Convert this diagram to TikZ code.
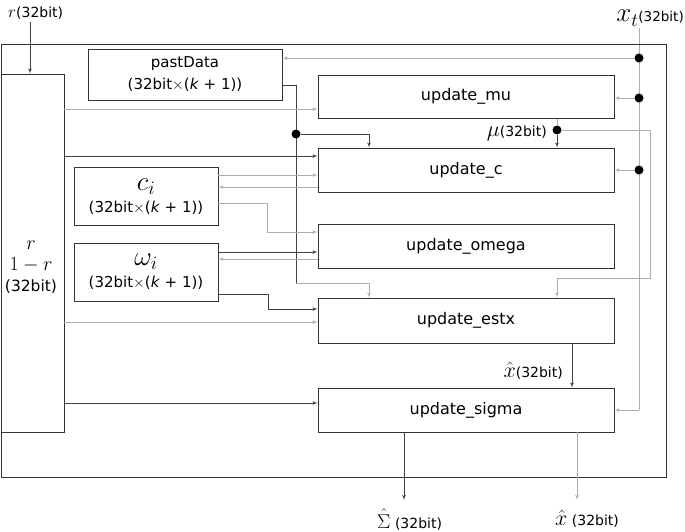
\RequirePackage{fix-cm}
\documentclass[tikz,border=0pt]{standalone}
\usepackage{fontspec}
\setmainfont{DejaVu Sans}
\usetikzlibrary{arrows, positioning}
\pgfdeclarelayer{background}
\pgfsetlayers{background,main}

\newcommand{\bitk}{(32bit$\times$(\textit{k} + 1))}
\newcommand{\symsz}[2]{{\fontsize{#1}{#1}\selectfont$#2$}}

\begin{document}
\begin{tikzpicture}[x=1pt, y=-1pt, >=latex',
    block/.style={rectangle, draw=black!80, line width=0.8pt, fill=white, text centered, minimum width=296pt, minimum height=44pt, inner sep=0pt, font=\fontsize{16}{19}\selectfont},
    mem/.style={block, minimum width=144pt, minimum height=58pt, align=center},
    line/.style={draw, ->, line width=0.7pt, black!75},
    gline/.style={line, black!32},
    dot/.style={circle, fill=black, inner sep=0pt, minimum size=9pt},
    lbl/.style={inner sep=0pt, font=\fontsize{14}{16}\selectfont}]

    \useasboundingbox (0,0) rectangle (685,532);

    % Frame and register block
    \node [draw=black!80, line width=0.8pt, minimum width=665pt, minimum height=433pt, inner sep=0pt] (frame) at (333.5,260.5) {};
    \node [block, minimum width=63pt, minimum height=358pt] (rbox) at (32.5,253) {};
    \node [lbl, align=center, font=\fontsize{15.5}{21}\selectfont] (rtxt) at (31,267) {\symsz{20}{r}\\\symsz{20}{1-r}\\(32bit)};

    % Memories
    \node [mem, minimum width=194pt, minimum height=51pt, font=\fontsize{15}{22}\selectfont] (past) at (185,74.5) {pastData\\\bitk};
    \node [mem, font=\fontsize{15}{22}\selectfont] (ci) at (146,196.5) {\symsz{27}{c_i}\\\bitk};
    \node [mem, font=\fontsize{15}{22}\selectfont] (wi) at (146,272) {\symsz{27}{\omega_i}\\\bitk};

    % Update units
    \node [block, minimum height=43pt] (mu) at (466,96.5) {update\_mu};
    \node [block] (c) at (466,170) {update\_c};
    \node [block] (omega) at (466,246) {update\_omega};
    \node [block, minimum height=45pt] (estx) at (466,320.5) {update\_estx};
    \node [block] (sigma) at (466,410) {update\_sigma};

    % Inputs and outputs
    \node [lbl, anchor=base west] (rlab) at (8,18) {\symsz{17}{r}(32bit)};
    \coordinate (rin) at (30,22);
    \node [lbl, anchor=base east, font=\fontsize{13.5}{15}\selectfont] (xlab) at (684,22) {\symsz{27}{x_t}(32bit)};
    \coordinate (xin) at (639,28);
    \coordinate (xbend) at (639,410);
    \node [dot] (d1) at (639,58) {};
    \node [dot] (d2) at (639,98) {};
    \node [dot] (d3) at (639,170) {};
    \node [dot] (d4) at (296,134) {};
    \node [dot] (d5) at (557,130) {};
    \coordinate (pbend) at (296,283);
    \node [lbl, anchor=base east] (mulab) at (547,137) {\symsz{22}{\mu}(32bit)};
    \node [lbl, anchor=base east] (xhlab) at (563,377) {\symsz{22}{\hat{x}}(32bit)};
    \coordinate (sout) at (404,500);
    \coordinate (xout) at (577,500);
    \node [lbl, anchor=base west] (slab) at (377,528) {\symsz{20}{\hat{\Sigma}} (32bit)};
    \node [lbl, anchor=base west] (xolab) at (555,525) {\symsz{22}{\hat{x}} (32bit)};

    % Paths
    \path [line] (rin) -- (rin |- rbox.north);
    \path [gline] (d1) -- (d1 -| past.east);
    \path [gline] (d2) -- (d2 -| mu.east);
    \path [gline] (d3) -- (d3 -| c.east);
    \path [gline] (xbend) -- (sigma.east);

    \path [gline] (rbox.east |- 0,109) -- (mu.west |- 0,109);
    \path [line] (rbox.east |- 0,156) -- (c.west |- 0,156);
    \path [gline] (rbox.east |- 0,322) -- (estx.west |- 0,322);
    \path [line] (rbox.east |- 0,403) -- (sigma.west |- 0,403);

    \path [line] (d4) -| (c.north -| 369,0);
    \path [gline] (pbend) -| (estx.north -| 369,0);

    \path [gline] (ci.east |- 0,175) -- (c.west |- 0,175);
    \path [gline] (c.west |- 0,187) -- (ci.east |- 0,187);
    \path [gline] (ci.east |- 0,203) -| (267,232) -- (omega.west |- 0,232);

    \path [line] (wi.east |- 0,252) -- (omega.west |- 0,252);
    \path [gline] (omega.west |- 0,259) -- (wi.east |- 0,259);
    \path [line] (wi.east |- 0,294) -| (268,309) -- (estx.west |- 0,309);

    \path [line] (d5) -- (c.north -| d5);
    \path [gline] (d5) -| (650,278) -| (estx.north -| d5);
    \path [line] (estx.south -| 572,0) -- (sigma.north -| 572,0);

    \path [line] (sigma.south -| sout) -- (sout);
    \path [gline] (sigma.south -| xout) -- (xout);

    \begin{pgfonlayer}{background}
        \draw [line width=0.7pt, black!32] (xin) -- (xbend);
        \draw [line width=0.7pt, black!75] (past.east |- 0,85) -| (pbend);
        \draw [line width=0.7pt, black!32] (mu.south -| d5) -- (d5);
    \end{pgfonlayer}
\end{tikzpicture}
\end{document}
